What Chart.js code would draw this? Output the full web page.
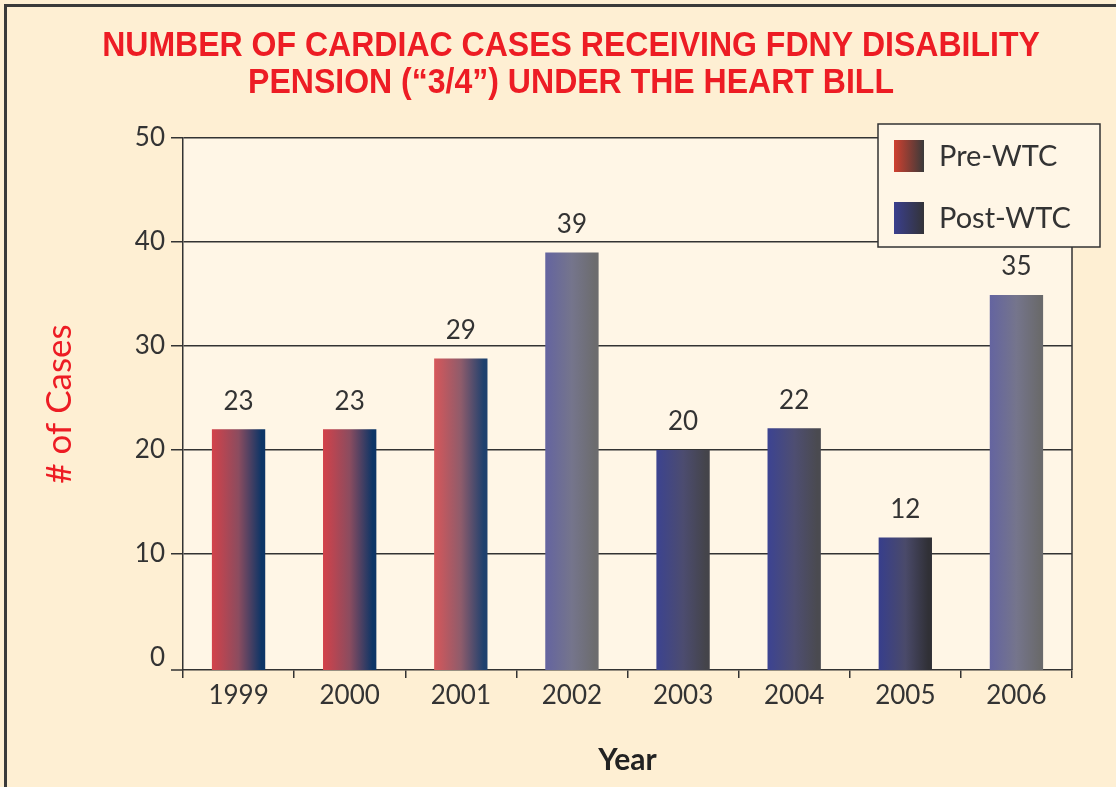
<!DOCTYPE html>
<html>
<head>
<meta charset="utf-8">
<title>Cardiac cases - FDNY disability pension</title>
<script src="https://cdn.jsdelivr.net/npm/chart.js@4.4.1/dist/chart.umd.min.js"></script>
<style>
  html, body { margin: 0; padding: 0; background: #FEEFD3; overflow: hidden; }
  body { width: 1116px; height: 787px; position: relative; }
  #frame { position: absolute; left: 4px; top: 4px; width: 1200px; height: 900px;
           border-left: 3px solid #3a3a3a; border-top: 3px solid #3a3a3a; }
  #wrap { position: absolute; left: 0; top: 0; width: 1116px; height: 787px; }
</style>
</head>
<body>
<div id="frame"></div>
<div id="wrap"><canvas id="heartBillChart" width="1116" height="787"></canvas></div>
<script>
// values (bar heights as drawn, labels as printed)
const years = ['1999', '2000', '2001', '2002', '2003', '2004', '2005', '2006'];
const preWtc = [22, 22, 28.8, null, null, null, null, null];
const postWtc = [null, null, null, 39, 20, 22.1, 11.6, 34.9];
const printedLabels = ['23', '23', '29', '39', '20', '22', '12', '35'];
const yTicks = [0, 10, 20, 30, 40, 50];
const yMin = -1.15;
const yMax = 50;
const titleLines = ['NUMBER OF CARDIAC CASES RECEIVING FDNY DISABILITY',
                    'PENSION (\u201C3/4\u201D) UNDER THE HEART BILL'];

// gradient stops for each bar (left -> right)
const barStops = [
    ['#D3424A', '#8B4C5F', '#0D3566'],
    ['#D3424A', '#8B4C5F', '#0D3566'],
    ['#D7575A', '#8F5C6B', '#1F416E'],
    ['#6464A0', '#75758C', '#6C6C6E'],
    ['#3C4390', '#4C4C70', '#44444A'],
    ['#3C4392', '#4E4E72', '#4A4A50'],
    ['#373E8C', '#4A4A6A', '#303036'],
    ['#6464A0', '#75758C', '#6A6A6C']
];
const legendStops = [
    ['#D0402F', '#3A3A3A'],
    ['#3A3F8E', '#333338']
];

const BAR_FRACTION = 0.48;
const TEXT = '#333333';
const LINE = '#333333';
const RED = '#ED1C24';
const LIGHT_FONT = 'Lato, "Liberation Sans", sans-serif';

function barGradient(context) {
    const chart = context.chart;
    const i = context.dataIndex;
    const stops = barStops[i] || barStops[0];
    if (!chart.chartArea || i === undefined) return stops[0];
    const xScale = chart.scales.x;
    const cx = xScale.getPixelForValue(i);
    const half = xScale.width / years.length * BAR_FRACTION / 2;
    const g = chart.ctx.createLinearGradient(cx - half, 0, cx + half, 0);
    g.addColorStop(0, stops[0]);
    g.addColorStop(0.5, stops[1]);
    g.addColorStop(0.93, stops[2]);
    g.addColorStop(1, stops[2]);
    return g;
}

const decorations = {
    id: 'decorations',
    beforeDraw(chart) {
        const { ctx, chartArea: a } = chart;
        ctx.save();
        ctx.fillStyle = '#FFF6E6';
        ctx.fillRect(a.left, a.top, a.width, a.height);

        // condensed bold title
        ctx.fillStyle = RED;
        ctx.font = 'bold 35px "Liberation Sans", Arial, sans-serif';
        ctx.textAlign = 'center';
        ctx.textBaseline = 'middle';
        titleLines.forEach((line, i) => {
            ctx.save();
            ctx.translate(571, 46 + i * 37);
            ctx.scale(0.915, 1);
            ctx.fillText(line, 0, 0);
            ctx.restore();
        });
        ctx.restore();
    },
    afterDraw(chart) {
        const { ctx, chartArea: a } = chart;
        ctx.save();
        // right frame of the plot + small extension of the base line
        ctx.strokeStyle = LINE;
        ctx.lineWidth = 1.5;
        ctx.beginPath();
        ctx.moveTo(a.right, a.top);
        ctx.lineTo(a.right, a.bottom);
        ctx.moveTo(a.left - 12, a.bottom);
        ctx.lineTo(a.left, a.bottom);
        ctx.stroke();

        // value labels above the bars
        ctx.fillStyle = TEXT;
        ctx.font = '26px ' + LIGHT_FONT;
        ctx.textAlign = 'center';
        ctx.textBaseline = 'middle';
        chart.data.datasets.forEach((ds, di) => {
            const meta = chart.getDatasetMeta(di);
            meta.data.forEach((bar, i) => {
                if (ds.data[i] === null) return;
                ctx.fillText(printedLabels[i], bar.x, bar.y - 28);
            });
        });

        // legend box
        const bx = 878, by = 124, bw = 222, bh = 123;
        ctx.fillStyle = '#FFF6E6';
        ctx.fillRect(bx, by, bw, bh);
        ctx.strokeStyle = LINE;
        ctx.lineWidth = 1.5;
        ctx.strokeRect(bx, by, bw, bh);
        chart.data.datasets.forEach((ds, di) => {
            const sy = by + 16 + di * 62;
            const g = ctx.createLinearGradient(bx + 16, 0, bx + 46, 0);
            g.addColorStop(0, legendStops[di][0]);
            g.addColorStop(1, legendStops[di][1]);
            ctx.fillStyle = g;
            ctx.fillRect(bx + 16, sy, 30, 32);
            ctx.fillStyle = TEXT;
            ctx.font = '29px ' + LIGHT_FONT;
            ctx.textAlign = 'left';
            ctx.textBaseline = 'middle';
            ctx.fillText(ds.label, bx + 61, sy + 17);
        });
        ctx.restore();
    }
};

const ctx = document.getElementById('heartBillChart').getContext('2d');
new Chart(ctx, {
    type: 'bar',
    data: {
        labels: years,
        datasets: [
            {
                label: 'Pre-WTC',
                data: preWtc,
                backgroundColor: barGradient,
                base: yMin,
                grouped: false,
                categoryPercentage: 1,
                barPercentage: BAR_FRACTION
            },
            {
                label: 'Post-WTC',
                data: postWtc,
                backgroundColor: barGradient,
                base: yMin,
                grouped: false,
                categoryPercentage: 1,
                barPercentage: BAR_FRACTION
            }
        ]
    },
    options: {
        responsive: false,
        animation: false,
        layout: { padding: { left: 0, right: 44, top: 138, bottom: 0 } },
        plugins: {
            legend: { display: false },
            tooltip: { enabled: false },
            title: { display: false }
        },
        scales: {
            x: {
                grid: {
                    display: true,
                    drawOnChartArea: false,
                    drawTicks: true,
                    tickLength: 8,
                    color: LINE,
                    lineWidth: 1.5
                },
                border: { display: true, color: LINE, width: 1.5 },
                ticks: {
                    color: TEXT,
                    font: { family: LIGHT_FONT, size: 26 },
                    padding: 2,
                    maxRotation: 0,
                    minRotation: 0
                },
                title: {
                    display: true,
                    text: 'Year',
                    color: '#222222',
                    font: { family: LIGHT_FONT, size: 30, weight: 'bold', lineHeight: 1.2 },
                    padding: { top: 0, bottom: 9 }
                },
                afterFit(scale) { scale.height = 117; }
            },
            y: {
                min: yMin,
                max: yMax,
                z: 1,
                afterBuildTicks(scale) { scale.ticks = yTicks.map(v => ({ value: v })); },
                grid: {
                    color: (c) => (c.tick && c.tick.value === 0) ? 'rgba(0,0,0,0)' : LINE,
                    lineWidth: 1.5,
                    tickLength: 12
                },
                border: { display: true, color: LINE, width: 1.5 },
                ticks: {
                    color: TEXT,
                    font: { family: LIGHT_FONT, size: 26 },
                    padding: 6
                },
                title: {
                    display: true,
                    text: '# of Cases',
                    color: RED,
                    font: { family: LIGHT_FONT, size: 35, lineHeight: 1.2 },
                    padding: { top: 39, bottom: 0 }
                },
                afterFit(scale) { scale.width = 183; }
            }
        }
    },
    plugins: [decorations]
});
</script>
</body>
</html>
